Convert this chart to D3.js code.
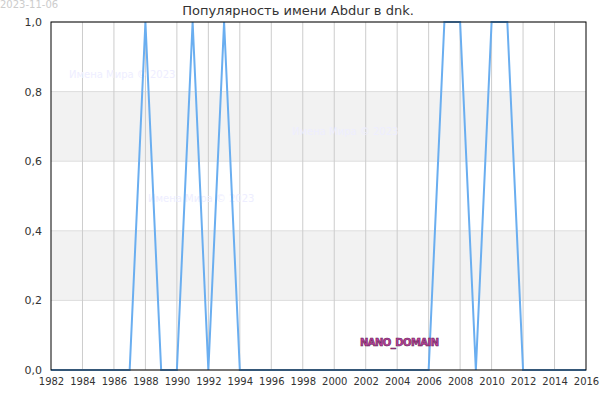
<!DOCTYPE html>
<html><head><meta charset="utf-8">
<script src="https://cdn.jsdelivr.net/npm/d3@7"></script>
<style>body{margin:0;background:#fff}text{font-family:"DejaVu Sans",sans-serif}</style>
</head><body><div id="chart"></div>
<script>
const years = d3.range(1982, 2017);
const peakYears = [1988, 1991, 1993, 2007, 2008, 2010, 2011];
const values = years.map(y => peakYears.includes(y) ? 1 : 0);
const yTicks = [0, 0.2, 0.4, 0.6, 0.8, 1.0];

const margin = {top: 22, right: 14, bottom: 30, left: 51};
const width = 600 - margin.left - margin.right;
const height = 400 - margin.top - margin.bottom;

const svg = d3.select("#chart").append("svg").attr("width", 600).attr("height", 400);
const g = svg.append("g").attr("transform", `translate(${margin.left},${margin.top})`);

const x = d3.scaleLinear().domain([1982, 2016]).range([0, width]);
const y = d3.scaleLinear().domain([0, 1]).range([height, 0]);

// bands
[[0.2, 0.4], [0.6, 0.8]].forEach(b => {
  g.append("rect").attr("x", 0).attr("width", width)
    .attr("y", y(b[1])).attr("height", y(b[0]) - y(b[1])).attr("fill", "#f2f2f2");
});
yTicks.forEach(t => g.append("line").attr("x1", 0).attr("x2", width)
  .attr("y1", y(t)).attr("y2", y(t)).attr("stroke", "#ddd"));
d3.range(1984, 2016, 2).forEach(t => g.append("line").attr("x1", x(t)).attr("x2", x(t))
  .attr("y1", 0).attr("y2", height).attr("stroke", "#ccc"));

// watermarks
[["Имена Мира © 2023", 18, 56], ["Имена Мира © 2023", 241, 113], ["Имена Мира © 2023", 97, 180]].forEach(w => {
  g.append("text").attr("x", w[1]).attr("y", w[2]).attr("font-size", 10)
    .attr("fill", "#eeeeff").text(w[0]);
});

g.append("path").datum(values)
  .attr("fill", "none").attr("stroke", "#6aaef0").attr("stroke-width", 2)
  .attr("d", d3.line().x((d, i) => x(years[i])).y(d => y(d)));

g.append("rect").attr("width", width).attr("height", height)
  .attr("fill", "none").attr("stroke", "#000");

const xAxis = g.append("g").attr("transform", `translate(0,${height})`)
  .call(d3.axisBottom(x).tickValues(d3.range(1982, 2017, 2)).tickFormat(d3.format("d")).tickSize(0).tickPadding(8));
const yAxis = g.append("g")
  .call(d3.axisLeft(y).tickValues(yTicks).tickFormat(d => d3.format(".1f")(d).replace(".", ",")).tickSize(0).tickPadding(9));
[xAxis, yAxis].forEach(a => {
  a.select(".domain").remove();
  a.selectAll("text").attr("font-size", 10).attr("fill", "#333").style("font-family", "DejaVu Sans");
});
yAxis.selectAll("text").attr("font-size", 11);

g.append("text").attr("x", 309).attr("y", 324).attr("font-size", 10).attr("font-weight", "bold")
  .attr("fill", "#c040a0").attr("stroke", "#602050").attr("stroke-width", 0.6)
  .attr("textLength", 79)
  .text("NANO_DOMAIN");

svg.append("text").attr("x", 298).attr("y", 15).attr("text-anchor", "middle")
  .attr("font-size", 13).attr("fill", "#333").text("Популярность имени Abdur в dnk.");
svg.append("text").attr("x", 0).attr("y", 8).attr("font-size", 10)
  .attr("fill", "#ccc").text("2023-11-06");
</script></body></html>
